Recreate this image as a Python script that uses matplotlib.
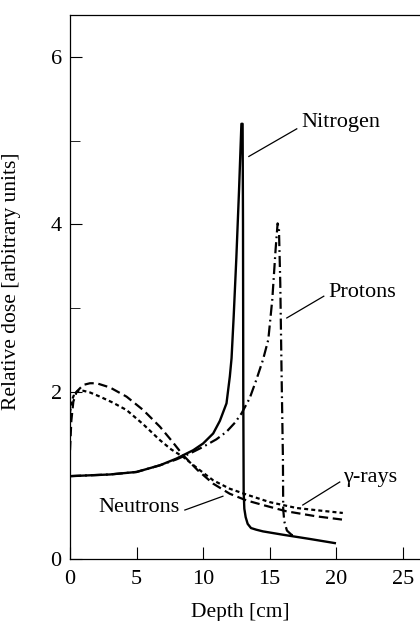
import matplotlib
matplotlib.use("Agg")
import matplotlib.pyplot as plt
import numpy as np

plt.rcParams['font.family'] = ['Liberation Serif', 'DejaVu Serif']

# depth [cm] / relative dose
nitrogen_x = [0, 3, 5, 6.76, 8, 9.26, 10, 10.76, 11.26, 11.76, 12.01, 12.14, 12.3, 12.5, 12.7, 12.88,
              12.97, 13.0, 13.02, 13.05, 13.1, 13.2, 13.35, 13.6, 14, 14.5, 16, 18, 19.9]
nitrogen_y = [0.99, 1.01, 1.04, 1.12, 1.2, 1.30, 1.38, 1.50, 1.65, 1.86, 2.18, 2.4, 2.9, 3.6, 4.4, 5.2,
              5.2, 4.0, 2.0, 0.8, 0.6, 0.5, 0.42, 0.37, 0.35, 0.33, 0.29, 0.24, 0.19]

protons_x = [0, 3, 5, 6.76, 8, 9, 10, 11, 11.76, 12.4, 12.89, 13.5, 14, 14.5, 14.9, 15.2, 15.45,
             15.6, 15.7, 15.8, 15.9, 16.0, 16.02, 16.1, 16.3, 16.64, 17.0]
protons_y = [0.99, 1.01, 1.04, 1.12, 1.19, 1.26, 1.34, 1.43, 1.52, 1.63, 1.74, 1.92, 2.14, 2.38, 2.62, 3.1, 3.7,
             4.01, 3.95, 3.3, 2.2, 1.2, 0.6, 0.45, 0.34, 0.29, 0.27]

neutrons_x = [0, 0.1, 0.25, 0.5, 1.0, 1.5, 2.0, 3.0, 4.25, 5.5, 6.76, 7.6, 8.5, 9.6, 10.76, 12,
              13.26, 14.5, 16.26, 18.5, 20.5]
neutrons_y = [1.3, 1.65, 1.88, 2.0, 2.08, 2.10, 2.1, 2.05, 1.94, 1.78, 1.58, 1.42, 1.24, 1.06, 0.90, 0.78,
              0.70, 0.645, 0.57, 0.51, 0.47]

gamma_x = [0, 0.15, 0.35, 0.63, 1.0, 1.5, 2.25, 3.2, 4.25, 5.5, 6.76, 7.6, 8.5, 9.6, 10.76, 12,
           13.26, 15, 17, 18.7, 20.5]
gamma_y = [1.75, 1.9, 1.98, 2.01, 2.01, 1.99, 1.94, 1.87, 1.78, 1.61, 1.42, 1.31, 1.22, 1.08, 0.94, 0.84,
           0.77, 0.68, 0.61, 0.58, 0.55]

fig = plt.figure(figsize=(4.2, 6.21), dpi=100)
ax = fig.add_axes([70/420, 1 - 559/621, 350/420, 544/621])

ax.plot(nitrogen_x, nitrogen_y, color='black', lw=1.7)
ax.plot(protons_x, protons_y, color='black', lw=1.6, dashes=(5, 1.8, 0.8, 1.8))
ax.plot(neutrons_x, neutrons_y, color='black', lw=1.6, dashes=(4.2, 2.1))
ax.plot(gamma_x, gamma_y, color='black', lw=1.6, dashes=(1.8, 1.4))

ax.set_xlim(0, 26.3)
ax.set_ylim(0, 6.5)
ax.spines['right'].set_visible(False)
for s in ['left', 'top', 'bottom']:
    ax.spines[s].set_linewidth(0.9)

ax.set_xticks([0, 5, 10, 15, 20, 25])
ax.set_yticks([0, 2, 4, 6])
ax.set_yticks([1, 3, 5], minor=True)
ax.tick_params(axis='both', which='major', direction='in', length=8.5, width=0.8,
               labelsize=16, pad=6)
ax.tick_params(axis='y', which='minor', direction='in', length=7, width=0.6)
ax.tick_params(axis='x', which='major', pad=8)

ax.set_xlabel('Depth [cm]', fontsize=15.5)
ax.set_ylabel('Relative dose [arbitrary units]', fontsize=15.5)
ax.xaxis.set_label_coords(0.486, -0.080)
ax.yaxis.set_label_coords(-0.140, 0.511)

# curve labels with leader lines
lab = dict(fontsize=16, va='center')
ax.text(17.4, 5.21, 'Nitrogen', ha='left', **lab)
ax.plot([13.44, 17.04], [4.81, 5.14], color='black', lw=0.9)
ax.text(19.44, 3.18, 'Protons', ha='left', **lab)
ax.plot([16.29, 19.07], [2.88, 3.14], color='black', lw=0.9)
ax.text(20.5, 0.97, 'γ-rays', ha='left', **lab)
ax.plot([17.49, 20.27], [0.645, 0.92], color='black', lw=0.9)
ax.text(8.26, 0.61, 'Neutrons', ha='right', **lab)
ax.plot([8.63, 11.49], [0.585, 0.75], color='black', lw=0.9)

fig.savefig('out.png', dpi=100)
